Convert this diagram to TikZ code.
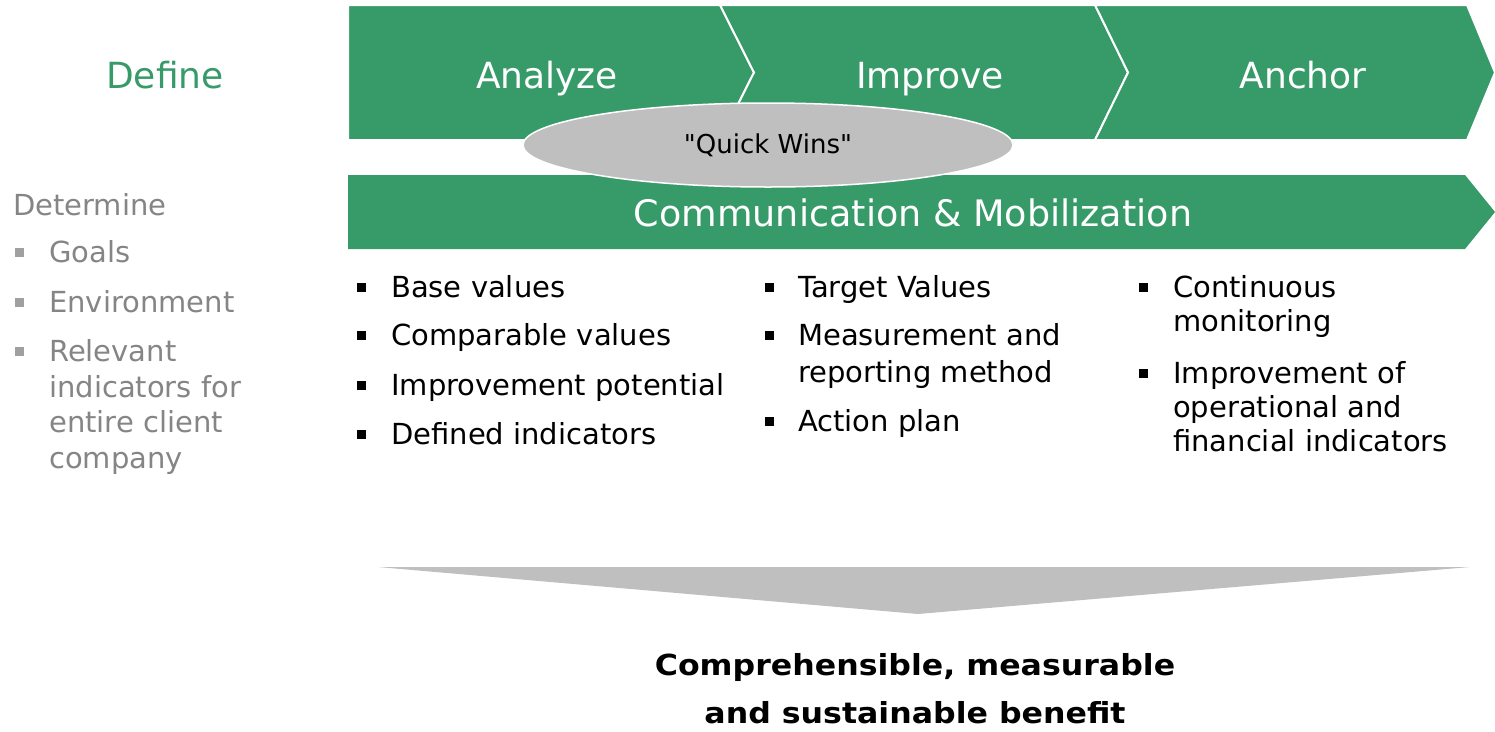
\documentclass[tikz,border=0pt]{standalone}
\usepackage{fontspec}
\usepackage{graphicx}
\usetikzlibrary{shapes.geometric}
\setmainfont{DejaVu Sans}
\newfontfamily\qfont{DejaVu Sans}
\definecolor{grn}{HTML}{379A69}
\definecolor{lgray}{HTML}{BFBFBF}
\definecolor{tgray}{HTML}{858585}
\definecolor{bgray}{HTML}{A0A0A0}
\tikzset{
  head/.style={text=white, font=\fontsize{36}{43}\selectfont, anchor=base, inner sep=0},
  item/.style={anchor=base west, font=\fontsize{29}{35}\selectfont, inner sep=0},
  litem/.style={item, text=tgray},
  chev/.style={fill=grn, draw=white, line width=2pt, line join=miter},
  res/.style={anchor=base, inner sep=0, font=\bfseries\fontsize{29}{35}\selectfont},
}
\newcommand{\bsq}[3]{\fill[#3] (#1-4,#2-14) rectangle ++(8.5,8.5);}
\begin{document}
\begin{tikzpicture}[x=1pt,y=-1pt]
\useasboundingbox (0,0) rectangle (1495,731);
% top chevrons
\draw[chev] (348,5) -- (720,5) -- (754,72.5) -- (720,140) -- (348,140) -- cycle;
\draw[chev] (720,5) -- (1095,5) -- (1128,72.5) -- (1095,140) -- (720,140) -- (754,72.5) -- cycle;
\draw[chev] (1095,5) -- (1467,5) -- (1495,72.5) -- (1467,140) -- (1095,140) -- (1128,72.5) -- cycle;
\node[head] (an) at (547,88) {Analyze};
\node[head] (im) at (930,88) {Improve};
\node[head] (ac) at (1303,88) {Anchor};
\node[head, text=grn] (df) at (165,88) {Define};
% communication band
\fill[grn] (348,175) -- (1465,175) -- (1495,212) -- (1465,249) -- (348,249) -- cycle;
\node[head, font=\fontsize{36.5}{43}\selectfont] (cm) at (913,226) {Communication \& Mobilization};
% quick wins
\node[ellipse, fill=lgray, draw=white, line width=1.5pt, minimum width=490pt, minimum height=84pt, inner sep=0pt] (qw) at (768,145) {};
\node[anchor=base, inner sep=0, font=\qfont\fontsize{26}{30}\selectfont] (qwt) at (768,153) {"Quick Wins"};
% left column
\node[litem] (l0) at (13,215) {Determine};
\bsq{19}{262}{bgray} \node[litem] (l1) at (49,262) {Goals};
\bsq{19}{312}{bgray} \node[litem] (l2) at (49,312) {Environment};
\bsq{19}{361}{bgray} \node[litem] (l3) at (49,361) {Relevant};
\node[litem] (l3b) at (49,397) {indicators for};
\node[litem] (l3c) at (49,432) {entire client};
\node[litem] (l3d) at (49,468) {company};
% column 1
\bsq{361}{297}{black} \node[item] (a1) at (391,297) {Base values};
\bsq{361}{345}{black} \node[item] (a2) at (391,345) {Comparable values};
\bsq{361}{395}{black} \node[item] (a3) at (391,395) {Improvement potential};
\bsq{361}{444}{black} \node[item] (a4) at (391,444) {Defined indicators};
% column 2
\bsq{769}{297}{black} \node[item] (b1) at (798,297) {Target Values};
\bsq{769}{345}{black} \node[item] (b2) at (798,345) {Measurement and};
\node[item] (b2b) at (798,382) {reporting method};
\bsq{769}{431}{black} \node[item] (b3) at (798,431) {Action plan};
% column 3
\bsq{1143}{297}{black} \node[item] (c1) at (1173,297) {Continuous};
\node[item] (c1b) at (1173,331) {monitoring};
\bsq{1143}{383}{black} \node[item] (c2) at (1173,383) {Improvement of};
\node[item] (c2b) at (1173,417) {operational and};
\node[item] (c2c) at (1173,451) {financial indicators};
% bottom arrow
\fill[lgray] (378,567) -- (1470,567) -- (918,614) -- cycle;
\node[res] (r1) at (915,675) {\scalebox{1.09}[1]{Comprehensible, measurable}};
\node[res] (r2) at (915,723) {\scalebox{1.09}[1]{and sustainable bene\kern0ptfit}};
\end{tikzpicture}
\end{document}
